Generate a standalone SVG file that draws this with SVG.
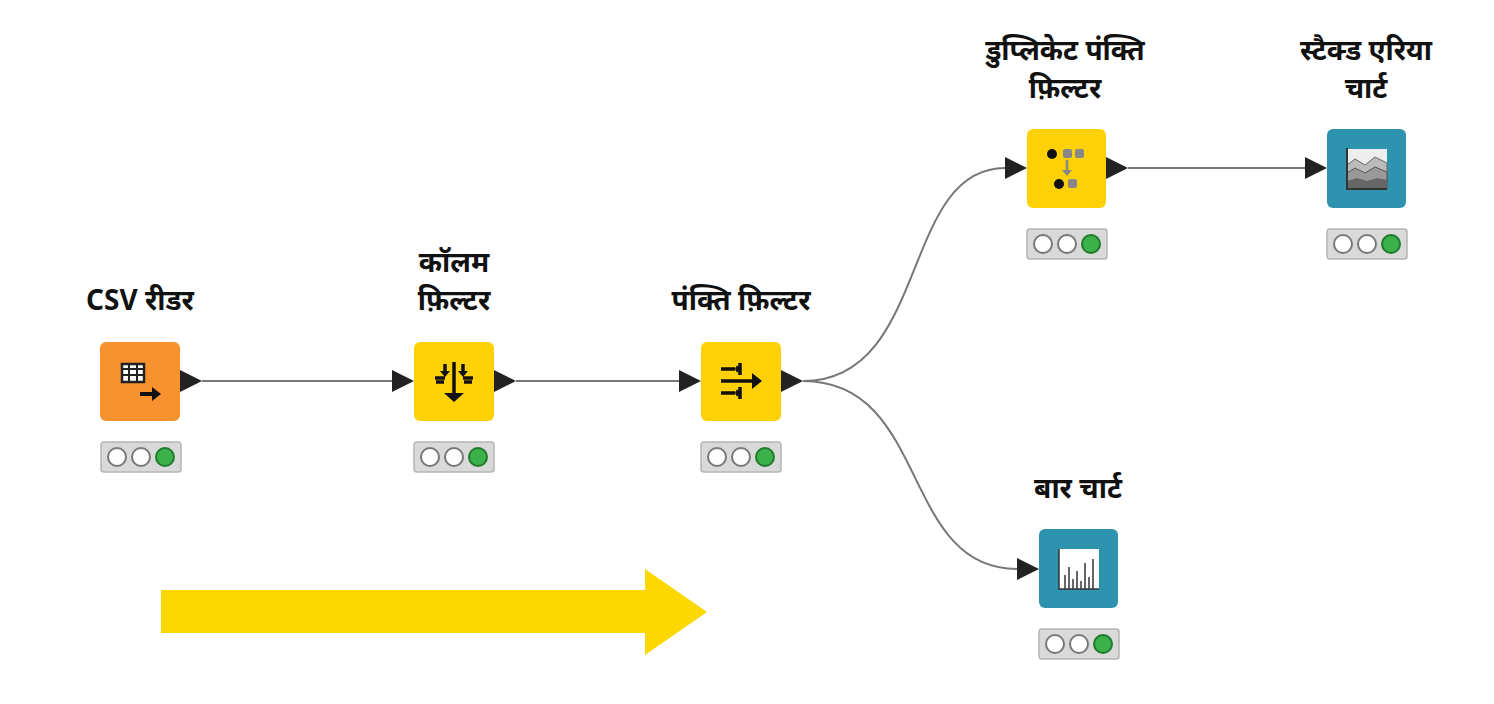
<svg xmlns="http://www.w3.org/2000/svg" width="1494" height="704" viewBox="0 0 1494 704">
<style>
.lbl{font-family:"Noto Sans","Noto Sans Devanagari","Liberation Sans",sans-serif;font-weight:bold;font-size:28px;fill:#111;text-anchor:middle}
.con{fill:none;stroke:#777;stroke-width:2}
.bar{fill:#d9d9d9;stroke:#b5b5b5;stroke-width:1.5}
.off{fill:#fff;stroke:#777;stroke-width:2}
.on{fill:#3cb04a;stroke:#1f7a2a;stroke-width:2}
.port{fill:#222}
</style>
<defs>
<g id="status"><rect class="bar" x="0" y="0" width="80" height="30" rx="3"/><circle class="off" cx="16" cy="15" r="9"/><circle class="off" cx="40" cy="15" r="9"/><circle class="on" cx="64" cy="15" r="9"/></g>
<polygon id="tri" class="port" points="0,-11 22,0 0,11"/>
</defs>
<rect width="1494" height="704" fill="#fff"/>
<g id="connectors">
<path class="con" d="M202,381 H392"/>
<path class="con" d="M516,381 H679"/>
<path class="con" d="M803,381 C930,381 900,168 1005,168"/>
<path class="con" d="M803,381 C930,381 900,569 1017,569"/>
<path class="con" d="M1128,168 H1305"/>
</g>
<g id="csv">
<text class="lbl" x="140" y="310">CSV रीडर</text>
<rect x="100" y="342" width="80" height="79" rx="6" fill="#f7922e"/>
<rect x="122" y="364" width="22" height="18" fill="#fff" stroke="#222" stroke-width="2.5"/>
<path d="M122,369h22M122,375h22M129,364v18M137,364v18" stroke="#222" stroke-width="2"/>
<path d="M140,394h13" stroke="#111" stroke-width="4"/><polygon points="152,387 161,394 152,401" fill="#111"/>
<use href="#tri" x="180" y="381"/>
<use href="#status" x="101" y="442"/>
</g>
<g id="colfilter">
<text class="lbl" x="454" y="272">कॉलम</text>
<text class="lbl" x="454" y="310">फ़िल्टर</text>
<use href="#tri" x="392" y="381"/>
<rect x="414" y="342" width="80" height="79" rx="6" fill="#fdd106"/>
<path d="M454,362v32M445,364v9M463,364v9M435,378h10M463,378h10M436,382h8M464,382h8" stroke="#111" stroke-width="3.5" fill="none"/>
<polygon points="444,393 454,402 464,393" fill="#111"/><polygon points="440,371 445,377 450,371" fill="#111"/><polygon points="458,371 463,377 468,371" fill="#111"/>
<use href="#tri" x="494" y="381"/>
<use href="#status" x="414" y="442"/>
</g>
<g id="rowfilter">
<text class="lbl" x="741" y="310">पंक्ति फ़िल्टर</text>
<use href="#tri" x="679" y="381"/>
<rect x="701" y="342" width="80" height="79" rx="6" fill="#fdd106"/>
<path d="M721,369h14M721,381h34M721,393h14M740,363v12M740,387v12M736,367l3,2-3,2M736,391l3,2-3,2" stroke="#111" stroke-width="3.5" fill="none"/>
<polygon points="752,373 762,381 752,389" fill="#111"/>
<use href="#tri" x="781" y="381"/>
<use href="#status" x="701" y="442"/>
</g>
<g id="dup">
<text class="lbl" x="1065" y="60">डुप्लिकेट पंक्ति</text>
<text class="lbl" x="1065" y="98">फ़िल्टर</text>
<use href="#tri" x="1005" y="168"/>
<rect x="1027" y="129" width="79" height="79" rx="6" fill="#fdd106"/>
<circle cx="1052" cy="154" r="5" fill="#111"/><rect x="1063" y="149" width="9" height="9" rx="2" fill="#888"/><rect x="1075" y="149" width="9" height="9" rx="2" fill="#888"/>
<path d="M1067,160v12" stroke="#888" stroke-width="2.5"/><polygon points="1062,170 1067,176 1072,170" fill="#888"/>
<circle cx="1059" cy="184" r="5" fill="#111"/><rect x="1068" y="179" width="9" height="9" rx="2" fill="#888"/>
<use href="#tri" x="1106" y="168"/>
<use href="#status" x="1027" y="229"/>
</g>
<g id="stacked">
<text class="lbl" x="1366" y="60">स्टैक्ड एरिया</text>
<text class="lbl" x="1366" y="98">चार्ट</text>
<use href="#tri" x="1305" y="168"/>
<rect x="1327" y="129" width="79" height="79" rx="6" fill="#2e93ae"/>
<rect x="1347" y="149" width="40" height="40" fill="#eee"/>
<path d="M1347,189V165l8,-6 10,6 10,-8 12,6V189Z" fill="#bbb" stroke="#666" stroke-width="1"/>
<path d="M1347,189V173l8,-5 10,5 10,-6 12,5V189Z" fill="#999" stroke="#555" stroke-width="1"/>
<path d="M1347,189V181l10,-3 10,3 10,-3 10,2V189Z" fill="#666"/>
<path d="M1347,148v41h40" stroke="#333" stroke-width="2" fill="none"/>
<use href="#status" x="1327" y="229"/>
</g>
<g id="bar">
<text class="lbl" x="1078" y="498">बार चार्ट</text>
<use href="#tri" x="1017" y="569"/>
<rect x="1039" y="529" width="79" height="79" rx="6" fill="#2e93ae"/>
<rect x="1059" y="549" width="40" height="40" fill="#fff"/>
<path d="M1059,549v40h40M1065,589v-14M1069,589v-22M1073,589v-10M1077,589v-18M1081,589v-8M1085,589v-26M1089,589v-12M1093,589v-30" stroke="#333" stroke-width="1.5" fill="none"/>
</g>
<use href="#status" x="1039" y="629"/>
<polygon points="161,590 645,590 645,569 707,612 645,655 645,633 161,633" fill="#fdd800"/>
</svg>
